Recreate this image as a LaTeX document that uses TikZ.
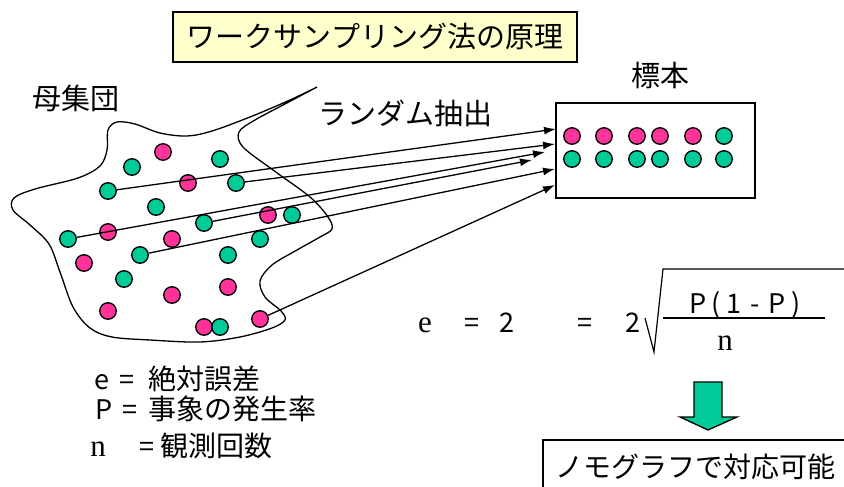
\documentclass[tikz,border=0pt]{standalone}
\usepackage{fontspec}
\setmainfont{Liberation Serif}
\newfontfamily\jp{Noto Sans CJK JP}
\usetikzlibrary{arrows.meta}
\definecolor{dpink}{RGB}{255,51,153}
\definecolor{dgreen}{RGB}{0,204,153}
\definecolor{titlebg}{RGB}{255,255,204}
\tikzset{
  dot/.style={circle,draw=black,line width=1.3pt,minimum size=16.5pt,inner sep=0pt},
  pk/.style={dot,fill=dpink},
  gr/.style={dot,fill=dgreen},
  jtext/.style={inner sep=0pt,font=\jp\fontsize{28}{30}\selectfont},
  stext/.style={inner sep=0pt,font=\jp\fontsize{27}{30}\selectfont},
  rtext/.style={inner sep=0pt,font=\fontsize{31}{34}\selectfont},
  ln/.style={line width=1.3pt},
  samp/.style={-{Latex[length=12pt,width=8pt]},line width=1.3pt},
}
\begin{document}
\begin{tikzpicture}[x=1pt,y=-1pt]
\useasboundingbox (0,0) rectangle (844,487);
\clip (0,0) rectangle (844,487);
% title
\draw[ln,fill=titlebg] (173,12) rectangle (577,62);
\node[jtext,font=\jp\fontsize{29}{30}\selectfont] (title) at (375,37) {ワークサンプリング法の原理};
% population label
\node[jtext,font=\jp\fontsize{29}{30}\selectfont] (pop) at (76,98) {母集団};
% blob
\draw[ln] plot[smooth,tension=0.55] coordinates {(317,87) (285,104) (255,120) (239,132) (243,147) (273,170) (310,197) (328,217) (332,229) (320,237) (297,250) (272,265) (260,281) (265,297) (281,311) (285,320) (272,328) (240,337) (200,342) (150,340) (112,337) (90,328) (73,307) (60,272) (49,244) (30,225) (13,210) (14,198) (35,189) (78,178) (100,166) (107,150) (108,130) (117,122) (135,124) (160,133) (187,136) (212,131) (250,117) (290,100) (317,87)};
% dots in population
\node[pk] (p1) at (163,152) {};
\node[gr] (p2) at (132,167) {};
\node[gr] (p3) at (220,159) {};
\node[pk] (p5) at (188,183) {};
\node[gr] (p7) at (156,207) {};
\node[pk] (p8) at (268,215) {};
\node[gr] (p9) at (292,215) {};
\node[pk] (p11) at (108,232) {};
\node[pk] (p13) at (172,239) {};
\node[gr] (p14) at (260,239) {};
\node[gr] (p16) at (228,255) {};
\node[pk] (p17) at (84,263) {};
\node[gr] (p18) at (124,279) {};
\node[pk] (p19) at (228,287) {};
\node[pk] (p20) at (172,295) {};
\node[pk] (p21) at (108,311) {};
\node[pk] (p22) at (204,327) {};
\node[gr] (p23) at (220,327) {};
% coordinates of arrow ends
\coordinate (tA) at (556,129);
\coordinate (tB) at (555,144);
\coordinate (tC) at (545,152);
\coordinate (tD) at (532,160);
\coordinate (tE) at (555,169);
\coordinate (tF) at (555,185);
% sampled dots
\node[gr] (sA) at (108,191) {};
\node[gr] (sB) at (236,183) {};
\node[gr] (sC) at (68,239) {};
\node[gr] (sD) at (204,223) {};
\node[gr] (sE) at (140,255) {};
\node[pk] (sF) at (260,319) {};
\draw[samp] (sA) -- (tA);
\draw[samp] (sB) -- (tB);
\draw[samp] (sC) -- (tC);
\draw[samp] (sD) -- (tD);
\draw[samp] (sE) -- (tE);
\draw[samp] (sF) -- (tF);
\node[jtext,font=\jp\fontsize{29}{30}\selectfont] (rand) at (405,113) {ランダム抽出};
% sample box
\node[jtext,font=\jp\fontsize{29}{30}\selectfont] (sampl) at (660,75) {標本};
\draw[ln] (556,103) rectangle (755,198);
\node[pk] (b1) at (572,136) {};
\node[pk] (b2) at (604,136) {};
\node[pk] (b3) at (637,136) {};
\node[pk] (b4) at (660,136) {};
\node[pk] (b5) at (693,136) {};
\node[gr] (b6) at (724,136) {};
\node[gr] (c1) at (572,159) {};
\node[gr] (c2) at (604,159) {};
\node[gr] (c3) at (637,159) {};
\node[gr] (c4) at (660,159) {};
\node[gr] (c5) at (693,159) {};
\node[gr] (c6) at (724,159) {};
% formula
\node[rtext,anchor=base] (fe) at (425,332) {e};
\node[stext,anchor=base] (feq1) at (472,332) {=};
\node[stext,anchor=base] (f2a) at (507,332) {2};
\node[stext,anchor=base] (feq2) at (585,332) {=};
\node[stext,anchor=base] (f2b) at (633,332) {2};
\draw[line width=1.2pt] (645,318) -- (654,352) -- (663,269) -- (850,269);
\node[stext,anchor=base] (fnum) at (745,313) {P\hspace{5pt}(\hspace{6pt}1\hspace{9pt}-\hspace{9pt}P\hspace{6pt})};
\draw[line width=1.3pt] (663,318) -- (825,318);
\node[rtext,anchor=base] (fden) at (725,350) {n};
% legend
\node[stext,anchor=base] (le) at (102,389) {e};
\node[stext,anchor=base] (leq1) at (127,389) {=};
\node[jtext,anchor=base west] (l1) at (148,389) {絶対誤差};
\node[stext,anchor=base] (lp) at (104,419) {P};
\node[stext,anchor=base] (leq2) at (130,419) {=};
\node[jtext,anchor=base west] (l2) at (148,419) {事象の発生率};
\node[rtext,anchor=base] (ln) at (98,456) {n};
\node[stext,anchor=base] (leq3) at (147,456) {=};
\node[jtext,anchor=base west] (l3) at (160,456) {観測回数};
% green down arrow
\draw[line width=1.3pt,fill=dgreen] (694,382) -- (722,382) -- (722,417) -- (737,417) -- (708,430) -- (680,417) -- (694,417) -- cycle;
% bottom box
\draw[ln] (543,440) rectangle (860,500);
\node[jtext] (nomo) at (695,467) {ノモグラフで対応可能};
\end{tikzpicture}
\end{document}
